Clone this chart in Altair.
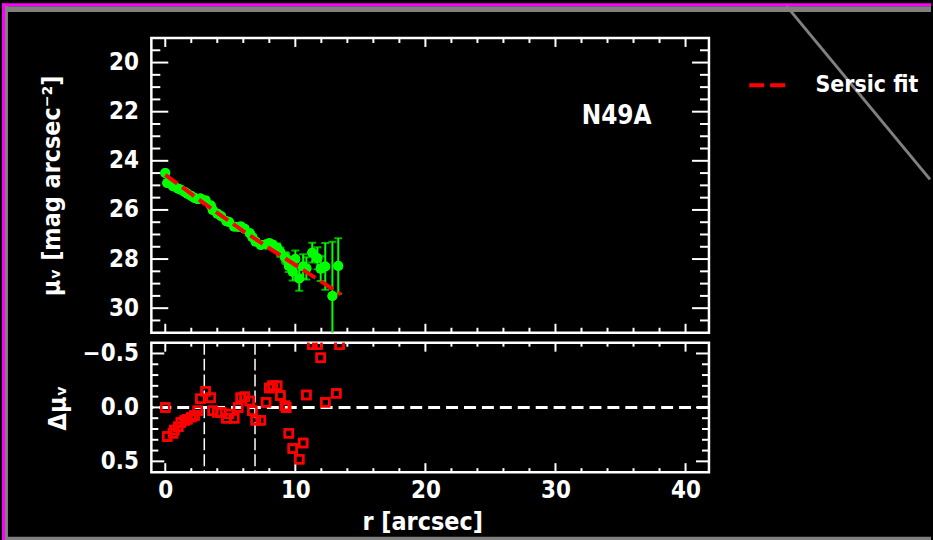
import altair as alt
import pandas as pd

# ---------------- data ----------------
r_prof = [0.0, 0.15, 0.6, 0.7, 1.0, 1.2, 1.5, 1.7, 2.0, 2.25, 2.5, 2.7, 3.1, 3.5, 3.65,
          4.0, 4.3, 4.7, 4.9, 5.3, 5.6, 5.8, 6.1, 6.5, 6.7, 6.95, 7.35, 7.75, 8.0, 8.25,
          8.6, 8.85, 9.2, 9.3, 9.5, 9.8, 10.0, 10.3, 10.6, 10.85, 11.3, 11.7, 11.95, 12.3,
          12.85, 13.3]
mu_prof = [24.50, 24.90, 25.04, 25.05, 25.14, 25.18, 25.27, 25.34, 25.43, 25.51, 25.56,
           25.53, 25.61, 25.82, 26.00, 26.15, 26.26, 26.46, 26.49, 26.68, 26.69, 26.67,
           26.77, 26.95, 27.11, 27.29, 27.43, 27.41, 27.36, 27.42, 27.54, 27.72, 27.93,
           27.98, 28.28, 28.52, 28.00, 28.79, 28.30, 28.38, 27.74, 27.97, 28.39, 28.30,
           29.50, 28.28]
mu_err = [0.05, 0.05, 0.05, 0.05, 0.05, 0.05, 0.05, 0.05, 0.05, 0.05, 0.06, 0.06, 0.06,
          0.06, 0.06, 0.07, 0.07, 0.07, 0.08, 0.08, 0.08, 0.09, 0.09, 0.10, 0.10, 0.11,
          0.12, 0.13, 0.14, 0.15, 0.17, 0.19, 0.21, 0.22, 0.25, 0.35, 0.35, 0.50, 0.50,
          0.45, 0.40, 0.45, 0.50, 0.95, 2.20, 1.13]

fit_r = [0.0, 2.0, 4.0, 6.0, 8.0, 10.0, 12.0, 13.5]
fit_mu = [24.57, 25.35, 26.12, 26.86, 27.56, 28.24, 28.92, 29.44]
fit_name = "Sersic fit"

res_r = [0.0, 0.15, 0.6, 0.7, 1.0, 1.2, 1.5, 1.7, 2.0, 2.25, 2.5, 2.7, 3.1, 3.5, 3.65,
         4.0, 4.3, 4.7, 4.9, 5.3, 5.6, 5.8, 6.1, 6.5, 6.7, 6.95, 7.35, 7.75, 8.0, 8.25,
         8.6, 8.85, 9.2, 9.3, 9.5, 9.8, 10.3, 10.6, 10.85, 11.3, 11.7, 11.95, 12.3,
         13.15, 13.4]
res_d = [0.0, 0.27, 0.24, 0.21, 0.18, 0.14, 0.12, 0.11, 0.09, 0.075, 0.03, -0.08, -0.15,
         -0.09, 0.03, 0.045, 0.045, 0.10, 0.06, 0.10, 0.0, -0.09, -0.10, -0.06, 0.03,
         0.12, 0.12, -0.045, -0.18, -0.20, -0.20, -0.11, -0.015, 0.0, 0.24, 0.38, 0.48,
         0.33, -0.115, -0.58, -0.58, -0.46, -0.045, -0.13, -0.58]

zero_level = [0.0]
break_r = [3.0, 6.9]

label_text = ["N49A"]
label_r = [34.7]
label_mu = [22.18]

x_major = [0, 10, 20, 30, 40]
x_minor = [2, 4, 6, 8, 12, 14, 16, 18, 22, 24, 26, 28, 32, 34, 36, 38]
mu_major = [20, 22, 24, 26, 28, 30]
mu_minor = [19.5, 20.5, 21.0, 21.5, 22.5, 23.0, 23.5, 24.5, 25.0, 25.5, 26.5, 27.0,
            27.5, 28.5, 29.0, 29.5, 30.5]
d_major = [-0.5, 0.0, 0.5]
d_minor = [-0.4, -0.3, -0.2, -0.1, 0.1, 0.2, 0.3, 0.4]

# ---------------- layout / style ----------------
W, H1, H2 = 560, 296, 130
FONT = "DejaVu Sans Condensed"
WHITE = "#ffffff"
GREEN = "#00ff00"
RED = "#ff0000"
GREY = "#808080"
MAGENTA = "#ff00ff"

xs = alt.Scale(domain=[-1.07, 41.8], nice=False, zero=False)
ys1 = alt.Scale(domain=[19, 31], reverse=True, nice=False, zero=False)
ys2 = alt.Scale(domain=[-0.6, 0.6], reverse=True, nice=False, zero=False)

axis_style = dict(ticks=False, domain=False, grid=False,
                  labelColor=WHITE, labelFont=FONT, labelFontSize=24, labelFontWeight="bold",
                  titleColor=WHITE, titleFont=FONT, titleFontSize=25, titleFontWeight="bold")

# identical axis objects shared by every layer of a panel
AX_Y1 = alt.Axis(values=mu_major, format="d", labelPadding=13,
                 title="μᵥ [mag arcsec⁻²]", titleX=-100, titleY=H1 / 2,
                 titleAngle=270, titleAlign="center", titleBaseline="middle", **axis_style)
AX_Y2 = alt.Axis(values=d_major, format=".1f", labelPadding=13,
                 title="Δμᵥ", titleX=-94, titleY=H2 / 2,
                 titleAngle=270, titleAlign="center", titleBaseline="middle", **axis_style)
AX_X2 = alt.Axis(values=x_major, format="d", labelPadding=6,
                 title="r [arcsec]", titleX=272, titleY=50,
                 titleAlign="center", titleBaseline="middle", **axis_style)


def X1(f):
    return alt.X(f, scale=xs, axis=None)


def Y1(f):
    return alt.Y(f, scale=ys1, axis=AX_Y1)


def X2(f):
    return alt.X(f, scale=xs, axis=AX_X2)


def Y2(f):
    return alt.Y(f, scale=ys2, axis=AX_Y2)


def xticks(vals, length, H, xenc):
    d = pd.DataFrame({"v": vals})
    base = alt.Chart(d).mark_rule(color=WHITE, strokeWidth=2)
    top = base.encode(x=xenc("v:Q"), y=alt.value(0), y2=alt.value(length))
    bot = base.encode(x=xenc("v:Q"), y=alt.value(H), y2=alt.value(H - length))
    return [top, bot]


def yticks(vals, length, yenc):
    d = pd.DataFrame({"v": vals})
    base = alt.Chart(d).mark_rule(color=WHITE, strokeWidth=2)
    left = base.encode(y=yenc("v:Q"), x=alt.value(0), x2=alt.value(length))
    right = base.encode(y=yenc("v:Q"), x=alt.value(W), x2=alt.value(W - length))
    return [left, right]


def rect(x1, x2, y1, y2, color):
    return alt.Chart(alt.Data(values=[{}])).mark_rect(color=color).encode(
        x=alt.value(x1), x2=alt.value(x2), y=alt.value(y1), y2=alt.value(y2))


# ---------------- top panel ----------------
prof = pd.DataFrame({"r": r_prof, "mu": mu_prof, "err": mu_err})
prof["lo"] = prof["mu"] - prof["err"]
prof["hi"] = prof["mu"] + prof["err"]
fit = pd.DataFrame({"r": fit_r, "mu": fit_mu, "name": [fit_name] * len(fit_r)})
lab = pd.DataFrame({"r": label_r, "mu": label_mu, "t": label_text})

# window decoration (relative to the top panel origin)
deco = [
    rect(-150, 783, -35, -32, MAGENTA),
    rect(-147, 783, -32, -26, GREY),
    rect(-150, -147, -35, 505, MAGENTA),
    rect(-147, -144, -32, 505, GREY),
    rect(-147, 783, 501, 505, GREY),
    alt.Chart(alt.Data(values=[{}])).mark_rule(color=GREY, strokeWidth=3).encode(
        x=alt.value(638), x2=alt.value(782), y=alt.value(-32), y2=alt.value(142)),
]

errbars = alt.Chart(prof).mark_rule(color=GREEN, strokeWidth=2, clip=True).encode(
    x=X1("r:Q"), y=Y1("lo:Q"), y2="hi:Q")
caps_hi = alt.Chart(prof).mark_tick(color=GREEN, orient="horizontal", size=8, thickness=2,
                                    clip=True).encode(x=X1("r:Q"), y=Y1("hi:Q"))
caps_lo = alt.Chart(prof).mark_tick(color=GREEN, orient="horizontal", size=8, thickness=2,
                                    clip=True).encode(x=X1("r:Q"), y=Y1("lo:Q"))
points = alt.Chart(prof).mark_circle(color=GREEN, size=100, opacity=1, clip=True).encode(
    x=X1("r:Q"), y=Y1("mu:Q"))
fitline = alt.Chart(fit).mark_line(strokeWidth=4, strokeDash=[15, 6], clip=True).encode(
    x=X1("r:Q"), y=Y1("mu:Q"),
    color=alt.Color("name:N", scale=alt.Scale(domain=[fit_name], range=[RED]),
                    legend=alt.Legend(orient="none", legendX=598, legendY=27, title=None,
                                      symbolType="stroke", symbolSize=1300,
                                      symbolStrokeWidth=4, symbolDash=[15, 6],
                                      symbolStrokeColor=RED,
                                      labelColor=WHITE, labelFont=FONT, labelFontSize=23,
                                      labelFontWeight="bold", labelOffset=28, padding=0)))
label = alt.Chart(lab).mark_text(font=FONT, fontSize=26, fontWeight="bold", color=WHITE,
                                 align="center", baseline="middle").encode(
    x=X1("r:Q"), y=Y1("mu:Q"), text="t:N")

top_layers = (deco
              + [points]
              + xticks(x_major, 9, H1, X1) + xticks(x_minor, 5, H1, X1)
              + yticks(mu_major, 17, Y1) + yticks(mu_minor, 9, Y1)
              + [errbars, caps_hi, caps_lo, points, fitline, label])
top = alt.layer(*top_layers).properties(width=W, height=H1)

# ---------------- bottom panel ----------------
res = pd.DataFrame({"r": res_r, "d": res_d})
zero = pd.DataFrame({"d": zero_level})
brk = pd.DataFrame({"r": break_r})

zero_line = alt.Chart(zero).mark_rule(color=WHITE, strokeWidth=3, strokeDash=[12, 6]).encode(
    y=Y2("d:Q"))
break_lines = alt.Chart(brk).mark_rule(color=WHITE, strokeWidth=1.5, strokeDash=[12, 4]).encode(
    x=X2("r:Q"))
squares = alt.Chart(res).mark_point(shape="square", color=RED, size=64, strokeWidth=2.5,
                                    filled=False, opacity=1, clip=True).encode(
    x=X2("r:Q"), y=Y2("d:Q"))

bot_layers = ([squares]
              + xticks(x_major, 9, H2, X2) + xticks(x_minor, 4, H2, X2)
              + yticks(d_major, 13, Y2) + yticks(d_minor, 7, Y2)
              + [zero_line, break_lines, squares])
bottom = alt.layer(*bot_layers).properties(width=W, height=H2)

chart = (alt.vconcat(top, bottom, spacing=10, bounds="flush")
         .properties(padding=0, background="black")
         .configure_view(stroke=WHITE, strokeWidth=2.5)
         .resolve_scale(color="independent"))

chart.save("out.html", embed_options={"renderer": "svg", "actions": False})
